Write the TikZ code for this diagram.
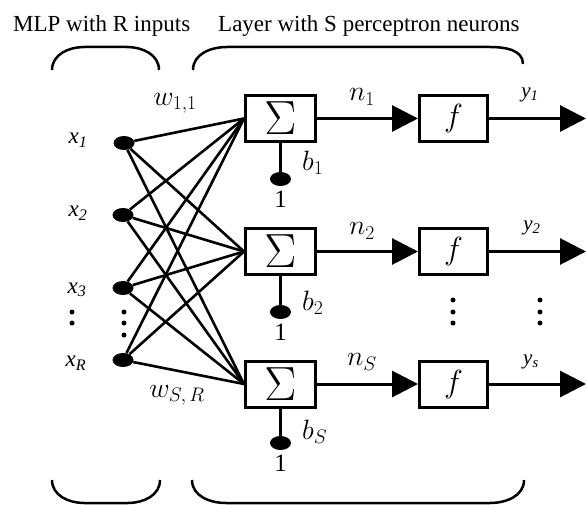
\RequirePackage{fix-cm}
\documentclass[tikz,border=0pt]{standalone}
\usepackage{fontspec}
\setmainfont{Liberation Serif}
\usetikzlibrary{arrows.meta,shapes.geometric}
\begin{document}
\begin{tikzpicture}[x=1pt,y=-1pt,
  dot/.style={ellipse,fill=black,minimum width=21pt,minimum height=14pt,inner sep=0pt},
  sumbox/.style={draw,line width=3pt,minimum width=70pt,minimum height=46pt,inner sep=0pt,font=\fontsize{48}{48}\selectfont},
  funbox/.style={draw,line width=3pt,minimum width=68pt,minimum height=46pt,inner sep=0pt,font=\fontsize{32}{32}\selectfont},
  wire/.style={line width=2.6pt},
  sig/.style={line width=3pt,-{Triangle[length=26pt,width=26pt]}},
  brace/.style={line width=2.5pt},
  title/.style={inner sep=0pt,font=\fontsize{23}{23}\selectfont},
  xlbl/.style={inner sep=0pt,font=\fontsize{23}{23}\selectfont\itshape},
  bigl/.style={inner sep=0pt,font=\fontsize{28}{28}\selectfont},
  ylbl/.style={inner sep=0pt,font=\fontsize{21}{21}\selectfont\itshape},
  onel/.style={inner sep=0pt,font=\fontsize{25}{25}\selectfont},
  vdot/.style={circle,fill=black,minimum size=5pt,inner sep=0pt}
]
\useasboundingbox (0,0) rectangle (586,505);

% titles
\node[title,anchor=base west] (t1) at (13,32) {MLP with R inputs};
\node[title,anchor=base west] (t2) at (218,32) {Layer with S perceptron neurons};

% braces
\draw[brace] (52,70) to[out=90,in=180] (84,47) -- (127,47) to[out=0,in=90] (159,70);
\draw[brace] (193,70) to[out=90,in=180] (227,47) -- (490,47) to[out=0,in=90] (523,64);
\draw[brace] (52,480) to[out=-90,in=180] (84,503) -- (128,503) to[out=0,in=-90] (160,480);
\draw[brace] (192,480) to[out=-90,in=180] (226,503) -- (490,503) to[out=0,in=-90] (524,480);

% inputs
\node[dot] (x1) at (124,143) {};
\node[dot] (x2) at (123,215) {};
\node[dot] (x3) at (123,288) {};
\node[dot] (xR) at (123,360) {};
\node[xlbl] (lx1) at (78,140) {x\textsubscript{1}};
\node[xlbl] (lx2) at (78,213) {x\textsubscript{2}};
\node[xlbl] (lx3) at (77,290) {x\textsubscript{3}};
\node[xlbl] (lxR) at (76,363) {x\textsubscript{R}};
\foreach \yy in {312,323} \node[vdot] at (72,\yy) {};
\foreach \yy in {312,323,335} \node[vdot] at (124,\yy) {};

% summing junctions
\node[sumbox] (s1) at (280.5,118.5) {$\Sigma$};
\node[sumbox] (s2) at (280.5,251.5) {$\Sigma$};
\node[sumbox] (sS) at (280.5,384) {$\Sigma$};

% transfer functions
\node[funbox] (f1) at (453.5,118.5) {$f$};
\node[funbox] (f2) at (453.5,251.5) {$f$};
\node[funbox] (fS) at (453.5,384) {$f$};

% weights
\foreach \i in {x1,x2,x3,xR}
  \foreach \j in {s1,s2,sS}
    \draw[wire] (\i) -- (\j.west);
\node[bigl] (w11) at (175,103) {$w_{1,1}$};
\node[bigl] (wSR) at (177,395) {$w_{S,\,R}$};

% biases
\node[dot] (d1) at (280.5,179) {};
\node[dot] (d2) at (280.5,312) {};
\node[dot] (dS) at (280.5,443) {};
\draw[line width=3pt] (s1.south) -- (d1);
\draw[line width=3pt] (s2.south) -- (d2);
\draw[line width=3pt] (sS.south) -- (dS);
\node[onel] (o1) at (280.5,199) {1};
\node[onel] (o2) at (280.5,332) {1};
\node[onel] (oS) at (280.5,463) {1};
\node[bigl,anchor=west] (b1) at (302,163) {$b_1$};
\node[bigl,anchor=west] (b2) at (302,303) {$b_2$};
\node[bigl,anchor=west] (bS) at (302,432) {$b_S$};

% net inputs
\draw[sig] (s1.east) -- (f1.west);
\draw[sig] (s2.east) -- (f2.west);
\draw[sig] (sS.east) -- (fS.west);
\node[bigl] (n1) at (362,97) {$n_1$};
\node[bigl] (n2) at (362,231) {$n_2$};
\node[bigl] (nS) at (362,362) {$n_S$};

% outputs
\coordinate (e1) at (586,118.5);
\coordinate (e2) at (586,251.5);
\coordinate (eS) at (586,384);
\draw[sig] (f1.east) -- (e1);
\draw[sig] (f2.east) -- (e2);
\draw[sig] (fS.east) -- (eS);
\node[ylbl] (y1) at (530,95) {y\textsubscript{1}};
\node[ylbl] (y2) at (532,228) {y\textsubscript{2}};
\node[ylbl] (yS) at (531,362) {y\textsubscript{s}};
\foreach \yy in {300,312,323} \node[vdot] at (453,\yy) {};
\foreach \yy in {300,312,323} \node[vdot] at (540,\yy) {};
\end{tikzpicture}
\end{document}
